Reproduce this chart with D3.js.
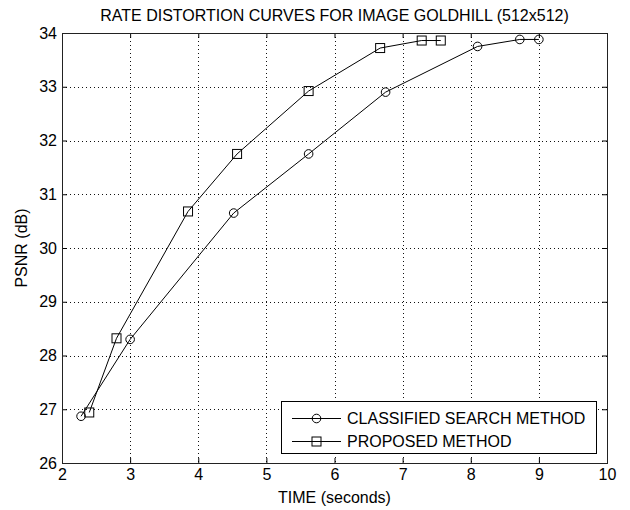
<!DOCTYPE html>
<html>
<head>
<meta charset="utf-8">
<script src="https://cdn.jsdelivr.net/npm/d3@7"></script>
<style>
  html, body { margin: 0; padding: 0; background: #fff; }
  text { font-family: Arial, "Liberation Sans", Helvetica, sans-serif; fill: #000; }
</style>
</head>
<body>
<svg id="chart" width="630" height="510"></svg>
<script>
// Rate–distortion measurements: encoding time (s) vs PSNR (dB)
const classifiedTime = [2.28, 3.0, 4.52, 5.62, 6.75, 8.1, 8.72, 9.0];
const classifiedPsnr = [26.87, 28.3, 30.65, 31.75, 32.9, 33.75, 33.88, 33.88];
const proposedTime = [2.4, 2.8, 3.85, 4.57, 5.62, 6.67, 7.28, 7.56];
const proposedPsnr = [26.94, 28.32, 30.68, 31.75, 32.92, 33.72, 33.86, 33.86];

const xTicks = [2, 3, 4, 5, 6, 7, 8, 9, 10];
const yTicks = [26, 27, 28, 29, 30, 31, 32, 33, 34];
const seriesNames = ["CLASSIFIED SEARCH METHOD", "PROPOSED METHOD"];

const titleText = "RATE DISTORTION CURVES FOR IMAGE GOLDHILL (512x512)";
const xLabel = "TIME (seconds)";
const yLabel = "PSNR (dB)";

const svg = d3.select("#chart");
const plot = { left: 62, right: 607, top: 33, bottom: 463 };

const x = d3.scaleLinear().domain([2, 10]).range([plot.left, plot.right]);
const y = d3.scaleLinear().domain([26, 34]).range([plot.bottom, plot.top]);

const fontSize = 16;

// dotted grid
const grid = svg.append("g").attr("stroke", "#111").attr("stroke-width", 1)
  .attr("stroke-dasharray", "1,3").attr("shape-rendering", "crispEdges");
grid.selectAll("line.gx").data(xTicks.slice(1, -1)).join("line")
  .attr("x1", d => Math.round(x(d)) + 0.5).attr("x2", d => Math.round(x(d)) + 0.5)
  .attr("y1", plot.top).attr("y2", plot.bottom);
grid.selectAll("line.gy").data(yTicks.slice(1, -1)).join("line")
  .attr("y1", d => Math.round(y(d)) + 0.5).attr("y2", d => Math.round(y(d)) + 0.5)
  .attr("x1", plot.left).attr("x2", plot.right);

// axes with inward ticks on all four sides
function styleAxis(g) {
  g.select(".domain").remove();
  g.selectAll(".tick line").attr("stroke", "#000");
  g.selectAll("text").attr("font-size", fontSize)
    .attr("font-family", "Arial, 'Liberation Sans', sans-serif").attr("fill", "#000");
}
svg.append("g").attr("transform", `translate(0,${plot.bottom})`)
  .call(d3.axisBottom(x).tickValues(xTicks).tickFormat(d3.format("d")).tickSizeInner(-5).tickPadding(6))
  .call(styleAxis);
svg.append("g").attr("transform", `translate(0,${plot.top})`)
  .call(d3.axisTop(x).tickValues(xTicks).tickFormat("").tickSizeInner(-5))
  .call(styleAxis);
svg.append("g").attr("transform", `translate(${plot.left},0)`)
  .call(d3.axisLeft(y).tickValues(yTicks).tickFormat(d3.format("d")).tickSizeInner(-5).tickPadding(5))
  .call(styleAxis);
svg.append("g").attr("transform", `translate(${plot.right},0)`)
  .call(d3.axisRight(y).tickValues(yTicks).tickFormat("").tickSizeInner(-5))
  .call(styleAxis);

// axes box
svg.append("rect")
  .attr("x", plot.left + 0.5).attr("y", plot.top + 0.5)
  .attr("width", plot.right - plot.left).attr("height", plot.bottom - plot.top)
  .attr("fill", "none").attr("stroke", "#222").attr("stroke-width", 1);

// curves
const line = d3.line().x(d => x(d[0])).y(d => y(d[1]));
const classified = d3.zip(classifiedTime, classifiedPsnr);
const proposed = d3.zip(proposedTime, proposedPsnr);

function drawSeries(data, marker) {
  const g = svg.append("g");
  g.append("path").datum(data).attr("d", line)
    .attr("fill", "none").attr("stroke", "#000").attr("stroke-width", 1);
  if (marker === "circle") {
    g.selectAll("circle").data(data).join("circle")
      .attr("cx", d => x(d[0])).attr("cy", d => y(d[1])).attr("r", 4.3)
      .attr("fill", "none").attr("stroke", "#000").attr("stroke-width", 1);
  } else {
    g.selectAll("rect").data(data).join("rect")
      .attr("x", d => x(d[0]) - 4.5).attr("y", d => y(d[1]) - 4.5)
      .attr("width", 9).attr("height", 9)
      .attr("fill", "none").attr("stroke", "#000").attr("stroke-width", 1);
  }
}
drawSeries(classified, "circle");
drawSeries(proposed, "square");

// legend
const legend = svg.append("g");
legend.append("rect").attr("x", 281.5).attr("y", 401.5).attr("width", 315).attr("height", 52)
  .attr("fill", "#fff").attr("stroke", "#000").attr("stroke-width", 1);
seriesNames.forEach((name, i) => {
  const cy = 418 + i * 23;
  legend.append("line").attr("x1", 292).attr("x2", 341).attr("y1", cy + 0.5).attr("y2", cy + 0.5)
    .attr("stroke", "#000").attr("stroke-width", 1);
  if (i === 0) {
    legend.append("circle").attr("cx", 316.5).attr("cy", cy + 0.5).attr("r", 4.3)
      .attr("fill", "none").attr("stroke", "#000");
  } else {
    legend.append("rect").attr("x", 312).attr("y", cy - 4).attr("width", 9).attr("height", 9)
      .attr("fill", "none").attr("stroke", "#000");
  }
  legend.append("text").attr("x", 347).attr("y", cy + 6).attr("font-size", fontSize).text(name);
});

// titles
svg.append("text").attr("x", (plot.left + plot.right) / 2).attr("y", 21)
  .attr("text-anchor", "middle").attr("font-size", fontSize).text(titleText);
svg.append("text").attr("x", (plot.left + plot.right) / 2).attr("y", 503)
  .attr("text-anchor", "middle").attr("font-size", fontSize).text(xLabel);
svg.append("text").attr("transform", `translate(27,${(plot.top + plot.bottom) / 2}) rotate(-90)`)
  .attr("text-anchor", "middle").attr("font-size", fontSize).text(yLabel);
</script>
</body>
</html>
